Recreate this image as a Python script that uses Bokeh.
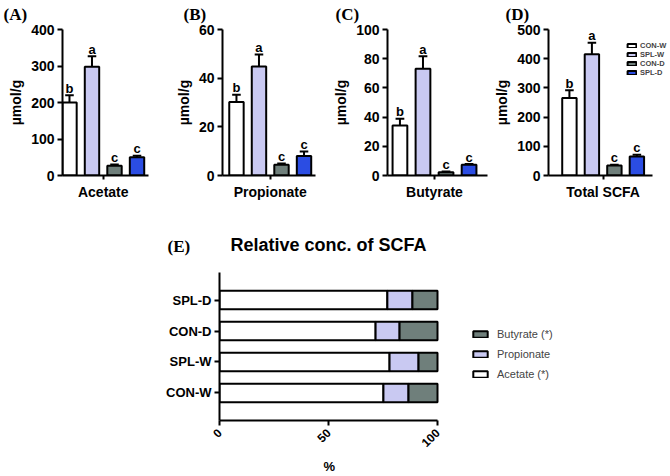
import math
from bokeh.plotting import figure
from bokeh.layouts import row, column
from bokeh.models import (Range1d, FactorRange, FixedTicker, Legend, LegendItem,
                          Title, ColumnDataSource)
from bokeh.embed import file_html
from bokeh.resources import INLINE
from bokeh.core.properties import value

# ---------------- data ----------------
groups = ["CON-W", "SPL-W", "CON-D", "SPL-D"]
bar_colors = ["#FFFFFF", "#C9C9F2", "#6F7F7B", "#2B4DE3"]
letters = ["b", "a", "c", "c"]

acetate_mean = [200, 298, 27, 50]
acetate_err = [20, 29, 3, 4]
propionate_mean = [30.2, 44.8, 4.4, 8.0]
propionate_err = [3.0, 4.9, 0.5, 1.9]
butyrate_mean = [34.3, 73.2, 2.3, 7.3]
butyrate_err = [4.6, 8.5, 0.4, 0.5]
total_mean = [265, 415, 34, 65]
total_err = [27, 40, 3, 6]

rel_groups = ["CON-W", "SPL-W", "CON-D", "SPL-D"]
rel_acetate = [75.2, 78.0, 71.6, 77.0]
rel_propionate = [11.5, 13.3, 11.0, 11.5]
rel_butyrate = [13.3, 8.7, 17.4, 11.5]
rel_colors = ["#FFFFFF", "#C9C9F2", "#6F7F7B"]
rel_labels = ["Acetate (*)", "Propionate", "Butyrate (*)"]

SANS = "Liberation Sans"
SERIF = "Liberation Serif"
TOP_H = 208
E_H = 268


def style_axis(ax, size="14px"):
    ax.axis_line_width = 2
    ax.axis_line_color = "black"
    ax.major_tick_line_width = 2
    ax.major_tick_line_color = "black"
    ax.major_tick_in = 0
    ax.major_tick_out = 5
    ax.minor_tick_line_color = None
    ax.major_label_text_font = SANS
    ax.major_label_text_font_style = "bold"
    ax.major_label_text_font_size = size
    ax.major_label_text_color = "black"
    ax.axis_label_text_font = SANS
    ax.axis_label_text_font_style = "bold"
    ax.axis_label_text_font_size = size
    ax.axis_label_text_color = "black"


def top_panel(name, tag, means, errs, ymax, step, width, left, right, xr, toff,
              axis_end=None, with_legend=False):
    p = figure(width=width, height=TOP_H, x_range=Range1d(*xr), y_range=Range1d(0, ymax),
               output_backend="svg", toolbar_location=None,
               min_border_left=left, min_border_right=right,
               min_border_top=29, min_border_bottom=33)
    p.outline_line_color = None
    p.grid.visible = False
    xs = [0, 1, 2, 3]
    tops = [m + e for m, e in zip(means, errs)]
    src = ColumnDataSource(dict(x=xs, top=means, etop=tops, color=bar_colors,
                                letter=letters,
                                cl=[x - 0.19 for x in xs], cr=[x + 0.19 for x in xs]))
    bars = p.vbar(x="x", top="top", bottom=0, width=0.64, fill_color="color",
                  line_color="black", line_width=2, source=src)
    p.segment(x0="x", y0="top", x1="x", y1="etop", line_color="black",
              line_width=2, source=src)
    p.segment(x0="cl", y0="etop", x1="cr", y1="etop", line_color="black",
              line_width=2, source=src)
    p.text(x="x", y="etop", text="letter", y_offset=-7, text_align="center",
           text_baseline="alphabetic", text_font=value(SANS),
           text_font_style="bold", text_font_size="13px", text_color="black",
           source=src)
    xa = p.xaxis[0]
    style_axis(xa)
    xa.ticker = FixedTicker(ticks=[1.5])
    xa.major_label_overrides = {1.5: name}
    xa.major_tick_out = 4
    xa.major_label_standoff = 4
    if axis_end is not None:
        xa.bounds = (xr[0], axis_end)
    ya = p.yaxis[0]
    style_axis(ya)
    ya.ticker = FixedTicker(ticks=list(range(0, ymax + 1, step)))
    ya.axis_label = "µmol/g"
    ya.major_label_standoff = 3
    ya.axis_label_standoff = 4
    p.title.text = tag
    p.title.align = "left"
    p.title.vertical_align = "top"
    p.title.offset = toff
    p.title.standoff = 7
    p.title.text_font = SERIF
    p.title.text_font_style = "bold"
    p.title.text_font_size = "17px"
    p.title.text_color = "black"
    if with_legend:
        items = [LegendItem(label=g, renderers=[bars], index=i) for i, g in enumerate(groups)]
        lg = Legend(items=items, location=(78, 98), orientation="vertical",
                    glyph_width=11, glyph_height=5, label_height=9,
                    label_text_font=SANS, label_text_font_style="bold",
                    label_text_font_size="7.5px", label_standoff=3,
                    spacing=0, padding=0, margin=0, border_line_color=None,
                    background_fill_alpha=0)
        p.add_layout(lg)
    return p


pA = top_panel("Acetate", "(A)", acetate_mean, acetate_err, 400, 100,
               155, 62, 7, (-0.31, 3.51), -59)
pB = top_panel("Propionate", "(B)", propionate_mean, propionate_err, 60, 20,
               165, 67, 5, (-0.62, 3.51), -39)
pC = top_panel("Butyrate", "(C)", butyrate_mean, butyrate_err, 100, 20,
               170, 67, 3, (-0.54, 3.8), -52)
pD = top_panel("Total SCFA", "(D)", total_mean, total_err, 500, 100,
               180, 58, 1, (-0.93, 4.45), -43, axis_end=3.69, with_legend=True)

# ---------------- panel E ----------------
E_LEFT, E_RIGHT = 219, 2
E_FRAME_W = 670 - E_LEFT - E_RIGHT
pE = figure(width=670, height=E_H,
            y_range=FactorRange(factors=rel_groups, range_padding=0.39,
                                range_padding_units="absolute"),
            x_range=Range1d(0, 100 * E_FRAME_W / 218.0),
            output_backend="svg", toolbar_location=None,
            min_border_left=E_LEFT, min_border_right=E_RIGHT, min_border_top=64,
            min_border_bottom=56)
pE.outline_line_color = None
pE.grid.visible = False
srcE = ColumnDataSource(dict(group=rel_groups, a=rel_acetate, p=rel_propionate,
                             b=rel_butyrate))
rs = pE.hbar_stack(["a", "p", "b"], y="group", height=0.6, fill_color=rel_colors,
                   line_color="black", line_width=2, source=srcE)
legE = Legend(items=[LegendItem(label=rel_labels[2], renderers=[rs[2]]),
                     LegendItem(label=rel_labels[1], renderers=[rs[1]]),
                     LegendItem(label=rel_labels[0], renderers=[rs[0]])],
              location=(252, 40), glyph_width=18, glyph_height=8, label_height=12,
              label_text_font=SANS, label_text_font_size="11px", label_standoff=8,
              spacing=8, padding=0, margin=0, border_line_color=None,
              background_fill_alpha=0)
pE.add_layout(legE)
xa = pE.xaxis[0]
style_axis(xa, "12px")
xa.bounds = (0, 100)
xa.ticker = FixedTicker(ticks=[0, 50, 100])
xa.major_label_orientation = math.pi / 4
xa.major_label_standoff = 5
ya = pE.yaxis[0]
style_axis(ya, "13px")
ya.major_label_standoff = 3
# "(E)" tag: plot title (outermost panel), pulled down to the title line
pE.title.text = "(E)"
pE.title.align = "left"
pE.title.offset = -52
pE.title.standoff = -82
pE.title.text_font = SERIF
pE.title.text_font_style = "bold"
pE.title.text_font_size = "17px"
pE.title.text_color = "black"
pE.add_layout(Title(text="Relative conc. of SCFA", align="left", offset=11, standoff=36,
                    text_font=SANS, text_font_style="bold", text_font_size="18px",
                    text_color="black"), "above")
pE.add_layout(Title(text="%", align="left", offset=104, standoff=4,
                    vertical_align="bottom",
                    text_font=SANS, text_font_style="bold", text_font_size="13px",
                    text_color="black"), "below")

layout = column(row(pA, pB, pC, pD), pE)
open("out.html", "w").write(file_html(layout, INLINE))
